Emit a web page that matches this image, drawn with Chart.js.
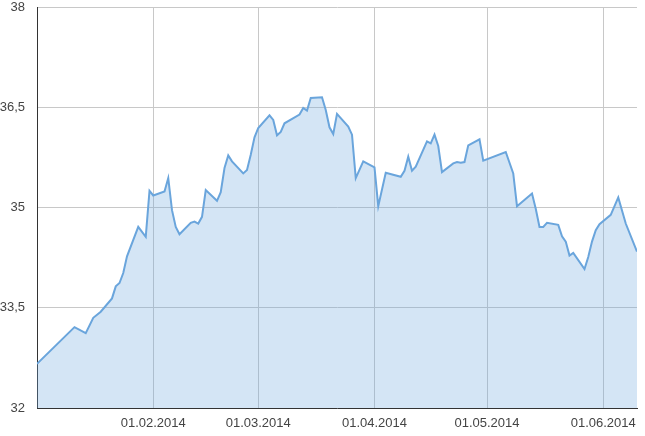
<!DOCTYPE html>
<html>
<head>
<meta charset="utf-8">
<script src="https://cdn.jsdelivr.net/npm/chart.js@4"></script>
<style>
  html, body { margin: 0; padding: 0; background: #fff; }
  #wrap { width: 645px; height: 436px; }
</style>
</head>
<body>
<div id="wrap"><canvas id="c" width="645" height="436"></canvas></div>
<script>
const dates = [
  '2014-01-01','2014-01-11','2014-01-14','2014-01-16','2014-01-18','2014-01-21','2014-01-22','2014-01-23','2014-01-24','2014-01-25','2014-01-28','2014-01-30','2014-01-31',
  '2014-02-01','2014-02-04','2014-02-05','2014-02-06','2014-02-07','2014-02-08','2014-02-11','2014-02-12','2014-02-13','2014-02-14','2014-02-15','2014-02-18','2014-02-19','2014-02-20','2014-02-21','2014-02-22','2014-02-25','2014-02-26','2014-02-27','2014-02-28',
  '2014-03-01','2014-03-04','2014-03-05','2014-03-06','2014-03-07','2014-03-08','2014-03-12','2014-03-13','2014-03-14','2014-03-15','2014-03-18','2014-03-19','2014-03-20','2014-03-21','2014-03-22','2014-03-25','2014-03-26','2014-03-27','2014-03-29',
  '2014-04-01','2014-04-02','2014-04-04','2014-04-08','2014-04-09','2014-04-10','2014-04-11','2014-04-12','2014-04-15','2014-04-16','2014-04-17','2014-04-18','2014-04-19','2014-04-22','2014-04-23','2014-04-24','2014-04-25','2014-04-26','2014-04-29','2014-04-30',
  '2014-05-06','2014-05-08','2014-05-09','2014-05-13','2014-05-14','2014-05-15','2014-05-16','2014-05-17','2014-05-20','2014-05-21','2014-05-22','2014-05-23','2014-05-24','2014-05-27','2014-05-28','2014-05-29','2014-05-30','2014-05-31',
  '2014-06-03','2014-06-05','2014-06-07','2014-06-10'
];
const rates = [
  32.66, 33.21, 33.12, 33.35, 33.44, 33.64, 33.82, 33.87, 34.02, 34.27, 34.71, 34.56, 35.25,
  35.18, 35.24, 35.44, 34.96, 34.71, 34.60, 34.77, 34.79, 34.76, 34.86, 35.26, 35.10, 35.23, 35.59, 35.78, 35.69, 35.51, 35.56, 35.79, 36.05,
  36.19, 36.38, 36.31, 36.08, 36.13, 36.26, 36.39, 36.49, 36.45, 36.64, 36.65, 36.46, 36.20, 36.10, 36.40, 36.21, 36.09, 35.44, 35.69,
  35.60, 35.02, 35.52, 35.46, 35.55, 35.76, 35.55, 35.61, 35.99, 35.96, 36.09, 35.92, 35.53, 35.66, 35.68, 35.67, 35.68, 35.93, 36.02, 35.70,
  35.83, 35.51, 35.02, 35.21, 34.98, 34.71, 34.71, 34.77, 34.74, 34.57, 34.49, 34.28, 34.32, 34.08, 34.26, 34.49, 34.66, 34.75,
  34.89, 35.15, 34.76, 34.34
];
const xTickDates = ['2014-02-01','2014-03-01','2014-04-01','2014-05-01','2014-06-01'];
const yTicks = [32, 33.5, 35, 36.5, 38];

const toTs = s => Date.UTC(+s.slice(0,4), +s.slice(5,7) - 1, +s.slice(8,10));
const fmtDate = ts => {
  const d = new Date(ts);
  const p = n => String(n).padStart(2, '0');
  return p(d.getUTCDate()) + '.' + p(d.getUTCMonth() + 1) + '.' + d.getUTCFullYear();
};
const points = dates.map((d, i) => ({ x: toTs(d), y: rates[i] }));

const font = { family: '"Liberation Sans", Arial, sans-serif', size: 13 };

new Chart(document.getElementById('c'), {
  type: 'line',
  data: {
    datasets: [{
      data: points,
      borderColor: '#6aa5dc',
      borderWidth: 2,
      backgroundColor: 'rgba(106,165,220,0.29)',
      fill: 'start',
      pointRadius: 0,
      pointHoverRadius: 0,
      tension: 0
    }]
  },
  options: {
    responsive: false,
    animation: false,
    devicePixelRatio: 1,
    layout: { padding: { top: 7, right: 8, left: 0, bottom: 0 } },
    plugins: { legend: { display: false }, tooltip: { enabled: false } },
    scales: {
      x: {
        type: 'linear',
        min: toTs(dates[0]),
        max: toTs(dates[dates.length - 1]),
        afterBuildTicks: s => { s.ticks = xTickDates.map(d => ({ value: toTs(d) })); },
        afterFit: s => { s.height = 28; s.paddingLeft = 0; s.paddingRight = 0; },
        ticks: {
          callback: v => fmtDate(v),
          font: font,
          color: '#444',
          padding: 8,
          maxRotation: 0,
          autoSkip: false
        },
        grid: { color: '#c8c8c8', lineWidth: 1, drawTicks: false },
        border: { color: '#333', width: 1 }
      },
      y: {
        min: 32,
        max: 38,
        afterBuildTicks: s => { s.ticks = yTicks.map(v => ({ value: v })); },
        afterFit: s => { s.width = 37; s.paddingTop = 0; s.paddingBottom = 0; },
        ticks: {
          callback: v => String(v).replace('.', ','),
          font: font,
          color: '#444',
          padding: 12
        },
        grid: { color: '#c8c8c8', lineWidth: 1, drawTicks: false },
        border: { color: '#333', width: 1 }
      }
    }
  }
});
</script>
</body>
</html>
